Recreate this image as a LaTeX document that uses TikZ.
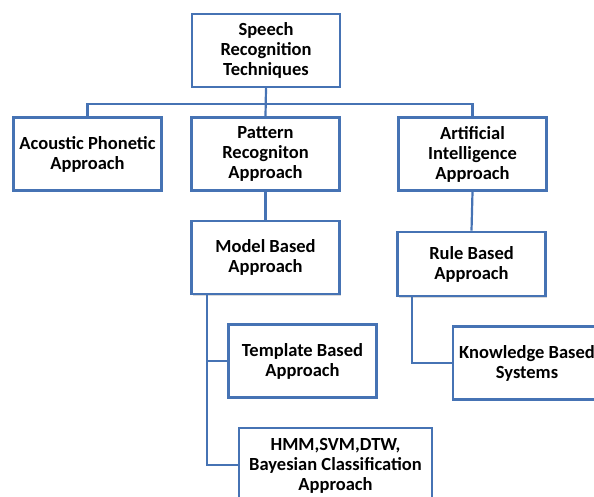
\documentclass[tikz,border=0pt]{standalone}
\usepackage{fontspec}
\setmainfont{Carlito}
\definecolor{boxblue}{RGB}{70,115,180}
\usetikzlibrary{
  shadows    % soft shadow under the boxes
}
\tikzset{
  every node/.style = {
    rectangle,
    draw=boxblue,
    line width=2.6pt,
    fill=white,
    align=center,
    inner sep=0pt,
    font=\fontsize{18.5}{20}\selectfont\bfseries,
    minimum width=148pt,
    minimum height=73pt,
    drop shadow={opacity=0.3, shadow xshift=1pt, shadow yshift=-1.5pt}
  },
  wide/.append style = {minimum width=193pt, minimum height=76pt},
  flat/.append style = {minimum height=64pt},
  link/.style = {draw=boxblue, line width=2.2pt}
}

\begin{document}
\begin{tikzpicture}[x=1pt, y=-1pt]
\useasboundingbox (0,0) rectangle (594,497);
\clip (0,0) rectangle (594,497);

\node (root) at (266,50.5) {Speech\\Recognition\\Techniques};
\node (acoustic) at (87.5,154) {Acoustic Phonetic\\Approach};
\node (pattern) at (265.5,154) {Pattern\\Recogniton\\Approach};
\node (ai) at (472.5,154) {Artificial\\Intelligence\\Approach};
\node (model) at (265.5,257.5) {Model Based\\Approach};
\node[flat] (rule) at (471.5,264) {Rule Based\\Approach};
\node (template) at (302.5,361) {Template Based\\Approach};
\node (knowledge) at (527,363) {Knowledge Based\\Systems};
\node[wide] (hmm) at (335.5,466) {HMM,SVM,DTW,\\Bayesian Classification\\Approach};

% connectors
\draw[link] (root.south) -- ++(0,16) -| (acoustic.north);
\draw[link] (root.south) -- ++(0,16) -| (ai.north);
\draw[link] (root.south) -- (pattern.north);
\draw[link] (pattern.south) -- (model.north);
\draw[link] (ai.south) -- (rule.north);
\draw[link] ([xshift=-58.5pt]model.south) |- (template.west);
\draw[link] ([xshift=-58.5pt]model.south) |- ([yshift=1pt]hmm.west);
\draw[link] ([xshift=-59.5pt]rule.south) |- (knowledge.west);
\end{tikzpicture}
\end{document}
